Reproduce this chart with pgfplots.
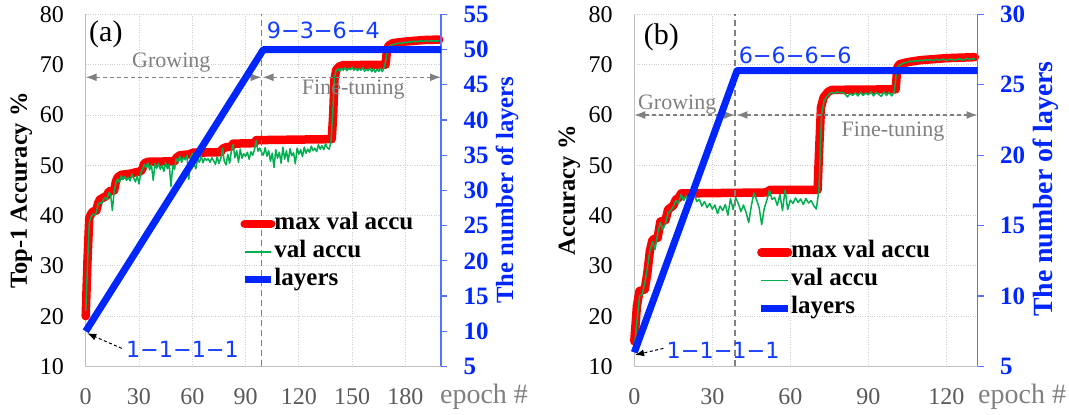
\documentclass[border=0pt]{standalone}
\usepackage{fontspec}
\setmainfont{Liberation Serif}
\newfontfamily\dejavu{DejaVu Sans}
\usepackage{pgfplots}
\pgfplotsset{compat=1.18}
\usetikzlibrary{arrows.meta}
\definecolor{accred}{RGB}{255,0,0}
\definecolor{accgreen}{RGB}{0,176,80}
\definecolor{layblue}{RGB}{0,38,255}
\definecolor{axisblue}{RGB}{85,115,255}
\definecolor{annblue}{RGB}{20,60,255}
\definecolor{gridgray}{RGB}{205,205,205}
\definecolor{axgray}{RGB}{190,190,190}
\definecolor{txtgray}{RGB}{128,128,128}
\definecolor{tickgray}{RGB}{89,89,89}

\tikzset{
  redline/.style={accred, line width=8.5pt, line join=round, line cap=round},
  greenline/.style={accgreen, line width=1.5pt, line join=round},
  blueline/.style={layblue, line width=7pt, line join=round},
  vdash/.style={txtgray, line width=1.5pt, dash pattern=on 6pt off 4pt},
  phasearrow/.style={txtgray, line width=1.3pt, dash pattern=on 4pt off 3pt, {Latex[length=11pt,width=8pt]}-{Latex[length=11pt,width=8pt]}},
}

\pgfplotsset{
  legend image code/.code={\draw[#1] (0pt,0pt) -- (26.5pt,0pt);},
  leftax/.style={scale only axis, anchor=south west, height=352.1pt,
    ymin=10, ymax=80, ytick={10,20,...,80},
    axis x line*=bottom, axis y line*=left,
    axis line style={draw=axgray, line width=1.2pt},
    major tick length=0pt, grid=major,
    grid style={gridgray, dotted, line width=0.9pt},
    /pgf/number format/assume math mode=true,
    tick label style={font=\fontsize{24}{24}\selectfont},
    xticklabel style={anchor=center, yshift=-30.2pt, text=tickgray},
    yticklabel style={anchor=east, inner sep=0pt, xshift=-21.5pt},
    ylabel style={font=\bfseries\fontsize{24.5}{25}\selectfont, anchor=center},
    clip=false},
  rightax/.style={scale only axis, anchor=south west, height=352.1pt,
    axis x line=none, axis y line*=right,
    axis line style={draw=axisblue, line width=1.2pt},
    tick align=outside, major tick length=6pt,
    ytick style={draw=axisblue, line width=1.2pt},
    /pgf/number format/assume math mode=true,
    yticklabel style={font=\bfseries\fontsize{25}{25}\selectfont, text=layblue, anchor=west, inner sep=0pt, xshift=16.5pt},
    ylabel style={text=layblue, anchor=center},
    clip=false,
    legend cell align=left,
    legend style={draw=none, fill=none, inner sep=0pt, outer sep=0pt, anchor=north west,
      row sep=5pt, column sep=-1pt, font=\bfseries\fontsize{25}{25}\selectfont,
      nodes={inner sep=0pt, text height=17pt, text depth=6pt}}},
}

\begin{document}
\begin{tikzpicture}
\useasboundingbox (0pt,0pt) rectangle (1069pt,415pt);

% ================= Panel (a) =================
\begin{axis}[leftax, at={(85.7pt,48.5pt)}, width=355.3pt,
  xmin=0, xmax=200, xtick={0,30,...,180},
  ylabel={Top-1 Accuracy \%},
  ylabel style={at={(axis description cs:-0.181,0.5)}}]
\addplot[redline] coordinates {
(0,20) (1,31) (2,39.5) (3,40.3) (4,40.8) (6,41) (7,42.5) (8,43.2) (10,43.6) (12,44) (13,44.8) (16,45) (17,46.8) (18,47.6) (20,48.1) (26,48.4) (28,48.6) (31,48.8) (32,49.4) (33,50.4) (35,50.7) (50,50.8) (51,51.5) (53,52) (59,52.2) (60,52.5) (76,52.6) (77,53.3) (79,53.6) (82,53.7) (83,54.3) (95,54.4) (96,55) (138.5,55.2) (139.3,60) (140,67) (141,69) (143,69.7) (145,69.9) (168.8,70) (169.5,72.5) (170.5,73.8) (173,74.3) (180,74.6) (190,74.9) (199,75)};
\addplot[greenline] coordinates {
(0,21) (1,30) (2,38.5) (3,39.8) (4,40.3) (5,40.1) (6,40.6) (7,42.3) (8,42.6) (9,42.4) (10,43.2) (11,43.6) (12,43.1) (13,44.6) (14,44.2) (15,41) (16,44.8) (17,46.5) (18,47.3) (19,46.6) (20,47.9) (21,47.2) (22,47.8) (23,47) (24,47.6) (25,46.9) (26,48.2) (27,47.5) (28,46.7) (29,47.9) (30,46.3) (31,48.5) (32,49.2) (33,50.2) (34,49.5) (35,50.5) (36,49.1) (37,50.1) (38,47) (39,50.3) (40,49.4) (41,50.4) (42,49.2) (43,50) (44,48.8) (45,50.5) (46,49.3) (47,50.2) (48,45.8) (49,50) (50,49.2) (51,51.3) (52,50.8) (53,51.8) (54,50.6) (55,51.6) (56,51.1) (57,52) (58,47.2) (59,51.5) (60,52.3) (61,50.2) (62,49.3) (63,51.4) (64,50.6) (65,51.8) (66,50.5) (67,51.4) (68,51) (69,51.3) (70,50.6) (71,51.5) (72,50.9) (73,50.2) (74,51.7) (75,50.4) (76,51.3) (77,53.4) (78,50.8) (79,50.1) (80,52.2) (81,50.4) (82,52.8) (83,54.1) (84,51.5) (85,52.9) (86,50.6) (87,53.2) (88,51.4) (89,52.3) (90,51.8) (91,52.6) (92,51.2) (93,52.7) (94,52) (95,53.1) (96,54.9) (97,52.8) (98,53.4) (99,52.6) (100,52) (101,53.5) (102,51.8) (103,52.9) (104,50.8) (105,52.4) (106,49.6) (107,53.1) (108,51.4) (109,52.6) (110,50.4) (111,53.6) (112,51.2) (113,52.9) (114,50.7) (115,53.3) (116,51.9) (117,52.5) (118,50.3) (119,53.4) (120,52.2) (121,53.1) (122,51.7) (123,53.6) (124,52.4) (125,53.2) (126,52.6) (127,53.8) (128,52.9) (129,53.4) (130,52.7) (131,54.1) (132,53.2) (133,53.9) (134,53.1) (135,54.3) (136,53.5) (137,53.2) (138,54.5) (139,60) (140,67.5) (141,68.8) (142,69.2) (143,68.7) (144,69.3) (145,68.9) (146,69.4) (147,68.8) (148,69.3) (149,69) (150,69.5) (151,68.9) (152,69.3) (153,68.8) (154,69.2) (155,68.9) (156,69.4) (157,68.7) (158,69.1) (159,68.8) (160,69.3) (161,68.6) (162,69.2) (163,68.5) (164,69.1) (165,68.7) (166,69.3) (167,68.6) (168,69.4) (169,71) (170,73.3) (171,73.7) (172,73.9) (173,74) (174,74.1) (175,74.2) (176,74.3) (177,74.2) (178,74.4) (179,74.3) (180,74.5) (181,74.4) (182,74.6) (183,74.5) (184,74.6) (185,74.7) (186,74.5) (187,74.7) (188,74.6) (189,74.8) (190,74.6) (191,74.7) (192,74.8) (193,74.6) (194,74.8) (195,74.7) (196,74.8) (197,74.6) (198,74.8) (199,74.7)};
\draw[vdash] (axis cs:99,10) -- (axis cs:99,80);
\draw[phasearrow] (axis cs:0,67.5) -- (axis cs:99,67.5);
\draw[phasearrow] (axis cs:99.6,67.5) -- (axis cs:200,67.5);
\node[font=\fontsize{22}{22}\selectfont, text=txtgray, anchor=base] at (axis cs:48.2,69.4) {Growing};
\node[font=\fontsize{22}{22}\selectfont, text=txtgray, anchor=base] at (axis cs:150.6,64.0) {Fine-tuning};
\node[font=\dejavu\fontsize{22.3}{22.3}\selectfont, text=annblue, anchor=west, inner sep=0pt] at (axis cs:101.9,76.8) {9−3−6−4};
\node[font=\dejavu\fontsize{22.3}{22.3}\selectfont, text=annblue, anchor=west, inner sep=0pt] at (axis cs:22.6,13.5) {1−1−1−1};
\draw[black, line width=1pt, dash pattern=on 3pt off 2.5pt, -{Latex[length=9pt,width=7pt]}] (axis cs:20.3,13.6) -- (axis cs:0.9,16.6);
\node[font=\fontsize{30}{30}\selectfont, anchor=west, inner sep=0pt] at (axis description cs:0.0093,0.944) {(a)};
\node[font=\fontsize{28}{28}\selectfont, text=txtgray, anchor=base west, inner sep=0pt] at (axis description cs:0.997,-0.1065) {epoch \#};
\end{axis}

\begin{axis}[rightax, at={(85.7pt,48.5pt)}, width=355.3pt,
  xmin=0, xmax=200, ymin=5, ymax=55, ytick={5,10,...,55},
  ylabel={The number of layers},
  ylabel style={font=\bfseries\fontsize{24.7}{25}\selectfont, at={(axis description cs:1.186,0.501)}},
  legend style={at={(axis description cs:0.4356,0.4380)}}]
\addlegendimage{color=accred, line width=8.5pt, line cap=round}
\addlegendentry{max val accu}
\addlegendimage{color=accgreen, line width=1.6pt}
\addlegendentry{val accu}
\addplot[blueline] coordinates {(0,10) (100,50) (200,50)};
\addlegendentry{layers}
\end{axis}

% ================= Panel (b) =================
\begin{axis}[leftax, at={(634.3pt,48.5pt)}, width=343.2pt,
  xmin=0, xmax=132, xtick={0,30,...,120},
  ylabel={Accuracy \%},
  ylabel style={at={(axis description cs:-0.189,0.5)}}]
\addplot[redline] coordinates {
(0,15) (1,22) (2,25) (4,25.3) (5,28.5) (6,33) (7,35.2) (9,35.6) (10,38.8) (12,39.1) (13,41.2) (15,42) (16,43.2) (17,43.5) (18,44.4) (51,44.6) (52,45.1) (70.5,45.1) (71,52) (71.8,61.5) (72.8,63.5) (74.5,64.6) (76,65) (100.5,65.1) (101.2,69.5) (102,70.1) (105,70.5) (110,70.9) (115,71.1) (120,71.3) (131,71.5)};
\addplot[greenline] coordinates {
(0,13.5) (1,19) (2,24) (3,24.3) (4,26.5) (5,29.5) (6,33) (7,34.8) (8,33.3) (9,36.5) (10,38.6) (11,37.3) (12,38.4) (13,40.6) (14,41) (15,41.8) (16,43) (17,42.4) (18,44.2) (19,43) (20,43.9) (21,42.3) (22,43.5) (23,44.4) (24,42.8) (25,43.2) (26,41.9) (27,42.8) (28,41.6) (29,42.4) (30,41.3) (31,42.1) (32,40.4) (33,41.9) (34,41) (35,42.2) (36,40.1) (37,43.4) (38,41.2) (39,43.6) (40,42.4) (41,40.8) (42,42.1) (43,40.6) (44,38.6) (45,41.9) (46,44.5) (47,43.2) (48,41.6) (49,38.2) (50,41.5) (51,43.1) (52,45) (53,43.2) (54,43.6) (55,42) (56,44.2) (57,41) (58,45.1) (59,41.2) (60,43.1) (61,42.4) (62,43.5) (63,42.6) (64,43.3) (65,42.2) (66,43.4) (67,42.5) (68,43) (69,42) (70,41.3) (71,45) (72,60) (73,62.8) (74,63.6) (75,64.2) (76,64.5) (77,64.3) (78,64.6) (79,64.4) (80,64.5) (81,64.2) (82,63.6) (83,64.3) (84,63.9) (85,64.4) (86,63.8) (87,64.5) (88,63.9) (89,64.4) (90,64) (91,64.6) (92,63.8) (93,64.5) (94,64.1) (95,63.7) (96,64.6) (97,63.9) (98,64.5) (99,63.8) (100,64.6) (101,69.3) (102,69.9) (103,70.2) (104,70.4) (105,70.5) (106,70.7) (107,70.6) (108,70.8) (109,70.7) (110,70.9) (111,70.8) (112,71) (113,70.9) (114,71) (115,70.8) (116,71.1) (117,70.9) (118,71) (119,71.1) (120,70.9) (121,71) (122,71.1) (123,70.9) (124,71) (125,71.2) (126,70.9) (127,71) (128,71.3) (129,71) (130,71.2) (131,71.1)};
\draw[vdash] (axis cs:38.7,10) -- (axis cs:38.7,80);
\draw[phasearrow] (axis cs:0,60) -- (axis cs:38.7,60);
\draw[phasearrow] (axis cs:39.3,60) -- (axis cs:132,60);
\node[font=\fontsize{22}{22}\selectfont, text=txtgray, anchor=base] at (axis cs:16.5,61.1) {Growing};
\node[font=\fontsize{22}{22}\selectfont, text=txtgray, anchor=base] at (axis cs:99.5,55.8) {Fine-tuning};
\node[font=\dejavu\fontsize{22.3}{22.3}\selectfont, text=annblue, anchor=west, inner sep=0pt] at (axis cs:40.1,71.9) {6−6−6−6};
\node[font=\dejavu\fontsize{22.3}{22.3}\selectfont, text=annblue, anchor=west, inner sep=0pt] at (axis cs:12.4,13.2) {1−1−1−1};
\draw[black, line width=1pt, dash pattern=on 3pt off 2.5pt, -{Latex[length=9pt,width=7pt]}] (axis cs:11.2,13.6) -- (axis cs:0.3,12.3);
\node[font=\fontsize{30}{30}\selectfont, anchor=west, inner sep=0pt] at (axis description cs:0.027,0.9345) {(b)};
\node[font=\fontsize{28}{28}\selectfont, text=txtgray, anchor=base west, inner sep=0pt] at (axis description cs:1.0015,-0.1065) {epoch \#};
\end{axis}

\begin{axis}[rightax, at={(634.3pt,48.5pt)}, width=343.2pt,
  xmin=0, xmax=132, ymin=5, ymax=30, ytick={5,10,...,30},
  ylabel={The number of layers},
  ylabel style={font=\bfseries\fontsize{27.8}{28}\selectfont, at={(axis description cs:1.1996,0.504)}},
  legend style={at={(axis description cs:0.358,0.3570)}}]
\addlegendimage{color=accred, line width=8.5pt, line cap=round}
\addlegendentry{max val accu}
\addlegendimage{color=accgreen, line width=1.6pt}
\addlegendentry{val accu}
\addplot[blueline] coordinates {(0,6) (39.5,26) (132,26)};
\addlegendentry{layers}
\end{axis}
\end{tikzpicture}
\end{document}
